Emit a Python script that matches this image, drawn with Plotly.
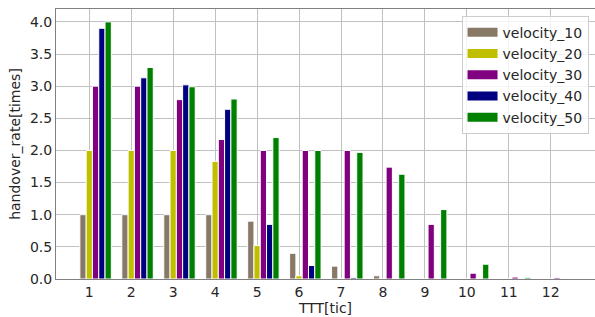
import plotly.graph_objects as go

ttt = [1, 2, 3, 4, 5, 6, 7, 8, 9, 10, 11, 12]
tick_labels = [str(t) for t in ttt]
series_names = ["velocity_10", "velocity_20", "velocity_30", "velocity_40", "velocity_50"]
velocity_10 = [1.0, 1.0, 1.0, 1.0, 0.90, 0.40, 0.20, 0.05, 0.0, 0.0, 0.0, 0.0]
velocity_20 = [2.0, 2.0, 2.0, 1.83, 0.52, 0.05, 0.0, 0.0, 0.0, 0.0, 0.0, 0.0]
velocity_30 = [3.0, 3.0, 2.79, 2.17, 2.0, 2.0, 2.0, 1.74, 0.85, 0.09, 0.03, 0.02]
velocity_40 = [3.90, 3.13, 3.02, 2.64, 0.85, 0.21, 0.02, 0.0, 0.0, 0.0, 0.0, 0.0]
velocity_50 = [4.0, 3.29, 2.99, 2.80, 2.20, 2.0, 1.97, 1.63, 1.08, 0.23, 0.02, 0.0]
colors = ["#887866", "#bfbf00", "#800080", "#000080", "#008000"]

bar_w = 0.15
offsets = [-0.15, 0.0, 0.15, 0.30, 0.45]

fig = go.Figure()
for name, vals, col, off in zip(series_names,
                                [velocity_10, velocity_20, velocity_30, velocity_40, velocity_50],
                                colors, offsets):
    fig.add_trace(go.Bar(
        x=ttt, y=vals, name=name, legendgroup=name, showlegend=False,
        width=bar_w, offset=off - bar_w / 2,
        marker=dict(color=col, line=dict(color="white", width=1)),
    ))
# legend entries drawn as wide patches (like the reference)
for name, col in zip(series_names, colors):
    fig.add_trace(go.Scatter(
        x=[None], y=[None], mode="lines", name=name, legendgroup=name,
        line=dict(color=col, width=9), showlegend=True, hoverinfo="skip",
    ))

font = "DejaVu Sans"
fig.update_layout(
    width=595, height=317,
    margin=dict(l=56, r=0, t=9, b=38, autoexpand=False),
    barmode="overlay",
    plot_bgcolor="white", paper_bgcolor="white",
    font=dict(family=font, size=14, color="#262626"),
    showlegend=True,
    legend=dict(
        x=0.988, y=0.975, xanchor="right", yanchor="top",
        bgcolor="rgba(255,255,255,0.8)", bordercolor="#cccccc", borderwidth=1,
        font=dict(family=font, size=14, color="#262626"),
        itemwidth=30, tracegroupgap=0,
    ),
    xaxis=dict(
        range=[0.206, 13.055], automargin=False,
        tickmode="array", tickvals=ttt, ticktext=tick_labels,
        showgrid=True, gridcolor="#c0c0c0", gridwidth=1,
        showline=True, linecolor="#808080", linewidth=1, mirror=True,
        ticks="", zeroline=False,
        title=dict(text="TTT[tic]", standoff=4, font=dict(size=14)),
        tickfont=dict(size=14),
    ),
    yaxis=dict(
        range=[0, 4.2], automargin=False,
        tickmode="array", tickvals=[0, 0.5, 1, 1.5, 2, 2.5, 3, 3.5, 4],
        ticktext=["0.0", "0.5", "1.0", "1.5", "2.0", "2.5", "3.0", "3.5", "4.0"],
        showgrid=True, gridcolor="#c0c0c0", gridwidth=1,
        showline=True, linecolor="#808080", linewidth=1, mirror=False,
        ticks="", zeroline=False,
        title=dict(text="handover_rate[times]", standoff=6, font=dict(size=14)),
        tickfont=dict(size=14),
    ),
)

fig.write_html("out.html", config={"displayModeBar": False},
               post_script="document.body.style.margin='0';document.body.style.overflow='hidden';")
